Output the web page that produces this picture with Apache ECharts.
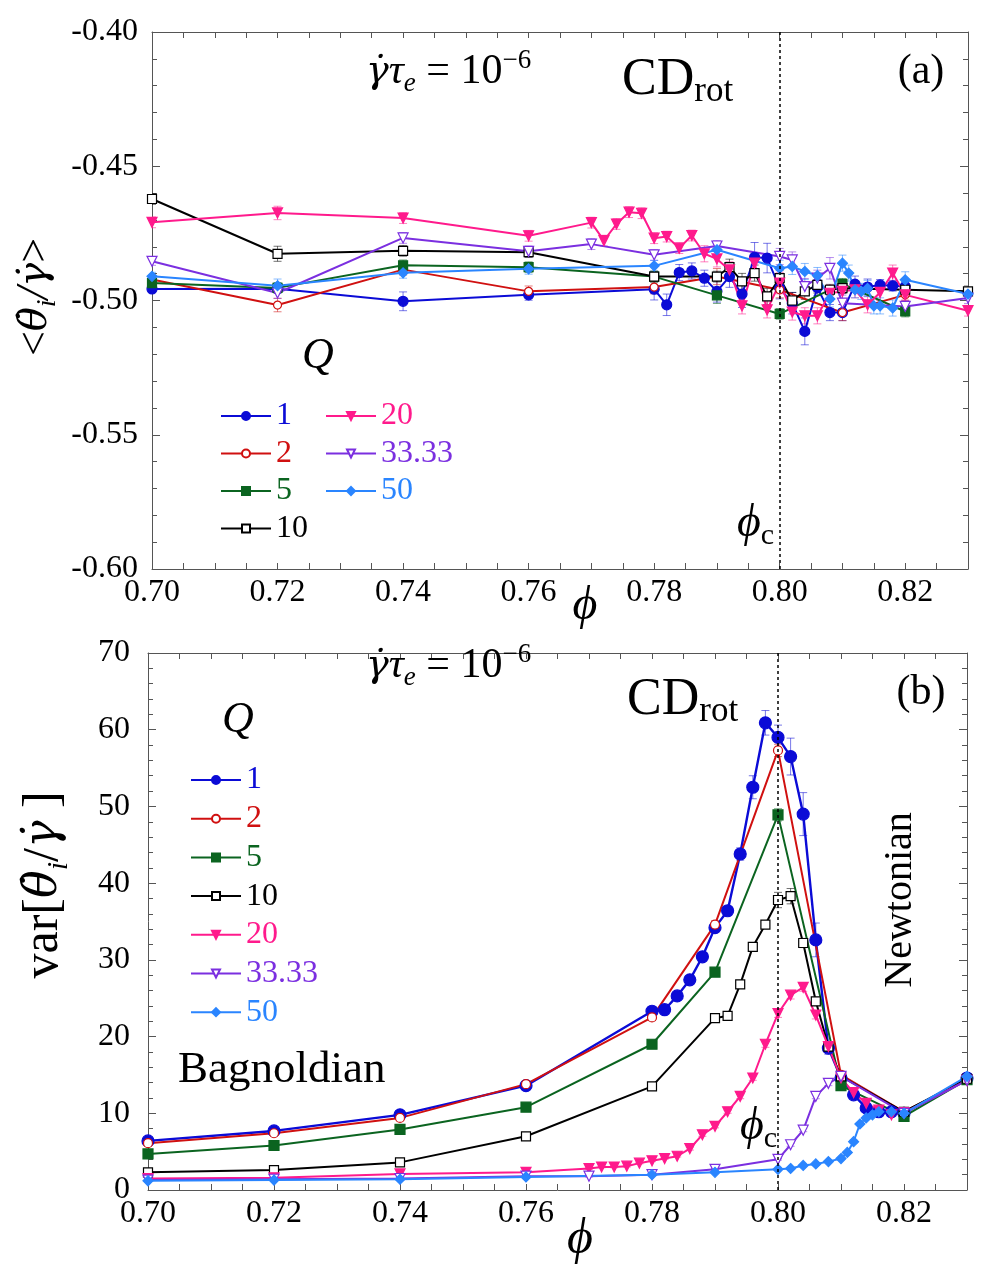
<!DOCTYPE html>
<html>
<head>
<meta charset="utf-8">
<script src="https://cdn.jsdelivr.net/npm/echarts@6/dist/echarts.min.js"></script>
<style>
  html, body { margin: 0; background: #fff; }
  #chart { width: 991px; height: 1279px; }
</style>
</head>
<body>
<div id="chart"></div>
<script>
// Q values (legend)
const qNames = ['1', '2', '5', '10', '20', '33.33', '50']

// panel (a): [phi, <theta_dot/gamma_dot>, error]
const q1A = [[0.70,-0.4957,0.0012],[0.72,-0.4956,0.0015],[0.74,-0.5003,0.0035],[0.76,-0.4979,0.002],[0.78,-0.4958,0.004],[0.782,-0.5016,0.004],[0.784,-0.4896,0.003],[0.786,-0.4890,0.003],[0.788,-0.4917,0.003],[0.79,-0.4966,0.004],[0.792,-0.4911,0.004],[0.794,-0.4976,0.005],[0.796,-0.4839,0.0055],[0.798,-0.4842,0.0055],[0.80,-0.4954,0.004],[0.802,-0.5010,0.004],[0.804,-0.5115,0.005],[0.806,-0.4952,0.003],[0.808,-0.5045,0.003],[0.81,-0.5045,0.003],[0.812,-0.4939,0.003],[0.814,-0.4950,0.003],[0.816,-0.4942,0.002],[0.818,-0.4945,0.002],[0.82,-0.4948,0.002]]
const q2A = [[0.70,-0.4922,0.0015],[0.72,-0.5017,0.0025],[0.74,-0.4885,0.002],[0.76,-0.4966,0.002],[0.78,-0.4950,0.0025],[0.79,-0.4911,0.003],[0.80,-0.4960,0.003],[0.81,-0.5045,0.003],[0.82,-0.4979,0.002]]
const q5A = [[0.70,-0.4935,0.0015],[0.72,-0.4953,0.002],[0.74,-0.4869,0.002],[0.76,-0.4876,0.002],[0.78,-0.4911,0.002],[0.79,-0.4981,0.003],[0.80,-0.5050,0.002],[0.81,-0.4938,0.002],[0.82,-0.5041,0.002]]
const q10A = [[0.70,-0.4622,0.002],[0.72,-0.4826,0.0028],[0.74,-0.4815,0.002],[0.76,-0.4820,0.002],[0.78,-0.4911,0.002],[0.79,-0.4911,0.002],[0.792,-0.4876,0.003],[0.794,-0.4929,0.003],[0.796,-0.4898,0.003],[0.798,-0.4985,0.003],[0.80,-0.4917,0.003],[0.802,-0.5000,0.003],[0.804,-0.4966,0.003],[0.806,-0.4942,0.003],[0.808,-0.4960,0.002],[0.81,-0.4954,0.002],[0.82,-0.4960,0.002],[0.83,-0.4966,0.002]]
const q20A = [[0.70,-0.4709,0.002],[0.72,-0.4674,0.0025],[0.74,-0.4693,0.002],[0.76,-0.4759,0.002],[0.77,-0.4710,0.002],[0.772,-0.4777,0.002],[0.774,-0.4715,0.002],[0.776,-0.4671,0.002],[0.778,-0.4675,0.002],[0.78,-0.4768,0.002],[0.782,-0.4762,0.002],[0.784,-0.4805,0.002],[0.786,-0.4758,0.002],[0.788,-0.4826,0.003],[0.79,-0.4845,0.003],[0.792,-0.4886,0.003],[0.794,-0.5020,0.003],[0.796,-0.4861,0.004],[0.798,-0.5035,0.003],[0.80,-0.4935,0.004],[0.802,-0.5043,0.003],[0.804,-0.5057,0.003],[0.806,-0.5057,0.003],[0.808,-0.4973,0.003],[0.81,-0.4966,0.003],[0.812,-0.4960,0.003],[0.814,-0.5016,0.003],[0.816,-0.4970,0.003],[0.818,-0.4898,0.003],[0.82,-0.4979,0.002],[0.83,-0.5038,0.002]]
const q33A = [[0.70,-0.4854,0.0015],[0.72,-0.4972,0.002],[0.74,-0.4767,0.002],[0.76,-0.4817,0.002],[0.77,-0.4790,0.002],[0.78,-0.4830,0.002],[0.79,-0.4797,0.002],[0.80,-0.4836,0.003],[0.802,-0.4849,0.003],[0.804,-0.4948,0.003],[0.806,-0.4917,0.003],[0.808,-0.4880,0.004],[0.81,-0.5010,0.003],[0.82,-0.5022,0.002],[0.83,-0.4991,0.002]]
const q50A = [[0.70,-0.4910,0.0015],[0.72,-0.4945,0.0025],[0.74,-0.4897,0.002],[0.76,-0.4882,0.002],[0.78,-0.4871,0.002],[0.79,-0.4811,0.003],[0.80,-0.4880,0.003],[0.802,-0.4873,0.003],[0.804,-0.4892,0.003],[0.806,-0.4907,0.003],[0.808,-0.4994,0.003],[0.81,-0.4861,0.003],[0.811,-0.4898,0.003],[0.812,-0.4960,0.003],[0.813,-0.4966,0.003],[0.814,-0.4955,0.003],[0.815,-0.5020,0.003],[0.816,-0.5020,0.003],[0.818,-0.5028,0.003],[0.82,-0.4923,0.003],[0.83,-0.4976,0.002]]

// panel (b): [phi, var[theta_dot/gamma_dot], error]
const q1B = [[0.70,6.4,0.2],[0.72,7.7,0.2],[0.74,9.8,0.2],[0.76,13.6,0.3],[0.78,23.3,0.4],[0.782,23.5,0.4],[0.784,25.3,0.4],[0.786,27.4,0.4],[0.788,30.4,0.5],[0.79,34.2,0.5],[0.792,36.4,0.6],[0.794,43.8,0.8],[0.796,52.5,1.5],[0.798,60.9,1.6],[0.80,59.0,1.6],[0.802,56.5,2.4],[0.804,49.0,2.8],[0.806,32.6,2.2],[0.808,18.5,0.8],[0.81,14.6,0.4],[0.812,12.4,0.3],[0.814,10.7,0.3],[0.816,10.2,0.2],[0.818,10.2,0.2],[0.82,10.0,0.2],[0.83,14.6,0.3]]
const q2B = [[0.70,6.1,0.2],[0.72,7.4,0.2],[0.74,9.4,0.2],[0.76,13.8,0.3],[0.78,22.5,0.4],[0.79,34.6,0.5],[0.80,57.3,0.8],[0.81,15.0,0.5],[0.82,10.2,0.2],[0.83,14.4,0.3]]
const q5B = [[0.70,4.7,0.2],[0.72,5.8,0.2],[0.74,7.9,0.2],[0.76,10.8,0.2],[0.78,19.0,0.3],[0.79,28.4,0.4],[0.80,48.9,0.8],[0.81,13.6,0.3],[0.82,9.6,0.2],[0.83,14.4,0.3]]
const q10B = [[0.70,2.3,0.1],[0.72,2.6,0.1],[0.74,3.6,0.1],[0.76,7.0,0.2],[0.78,13.5,0.3],[0.79,22.4,0.3],[0.792,22.7,0.3],[0.794,26.8,0.4],[0.796,31.7,0.4],[0.798,34.6,0.5],[0.80,37.8,1.0],[0.802,38.3,1.0],[0.804,32.2,0.6],[0.806,24.6,0.5],[0.808,18.7,0.4],[0.81,14.8,0.3],[0.82,10.2,0.2],[0.83,14.5,0.3]]
const q20B = [[0.70,1.5,0.1],[0.72,1.6,0.1],[0.74,2.1,0.1],[0.76,2.3,0.1],[0.77,2.8,0.1],[0.772,3.0,0.1],[0.774,3.0,0.1],[0.776,3.1,0.1],[0.778,3.5,0.1],[0.78,3.8,0.1],[0.782,4.1,0.1],[0.784,4.4,0.1],[0.786,5.4,0.2],[0.788,7.2,0.2],[0.79,8.3,0.2],[0.792,10.2,0.2],[0.794,12.2,0.3],[0.796,14.6,0.3],[0.798,19.0,0.4],[0.80,23.0,0.5],[0.802,25.4,0.5],[0.804,26.4,0.5],[0.806,22.8,0.5],[0.808,18.7,0.4],[0.81,14.6,0.3],[0.812,12.7,0.3],[0.814,11.3,0.2],[0.816,10.4,0.2],[0.818,9.8,0.2],[0.82,10.1,0.2],[0.83,14.3,0.3]]
const q33B = [[0.70,1.3,0.1],[0.72,1.4,0.1],[0.74,1.5,0.1],[0.76,1.8,0.1],[0.77,1.8,0.1],[0.78,2.0,0.1],[0.79,2.7,0.1],[0.80,4.0,0.1],[0.802,5.9,0.2],[0.804,7.8,0.2],[0.806,12.2,0.3],[0.808,13.9,0.3],[0.81,14.8,0.3],[0.82,10.0,0.2],[0.83,14.3,0.3]]
const q50B = [[0.70,1.2,0.1],[0.72,1.3,0.1],[0.74,1.4,0.1],[0.76,1.7,0.1],[0.78,2.0,0.1],[0.79,2.3,0.1],[0.80,2.7,0.1],[0.802,2.8,0.1],[0.804,3.2,0.1],[0.806,3.4,0.1],[0.808,3.7,0.1],[0.81,4.1,0.1],[0.811,4.9,0.1],[0.812,6.3,0.2],[0.813,8.6,0.2],[0.814,9.4,0.2],[0.815,9.8,0.2],[0.816,10.2,0.2],[0.818,10.2,0.2],[0.82,10.0,0.2],[0.83,14.8,0.3]]

const phiC = 0.80

const dataA = { '1': q1A, '2': q2A, '5': q5A, '10': q10A, '20': q20A, '33.33': q33A, '50': q50A }
const dataB = { '1': q1B, '2': q2B, '5': q5B, '10': q10B, '20': q20B, '33.33': q33B, '50': q50B }

const qStyle = {
  '1':     { color: '#0b0bd6', symbol: 'circle',  filled: true,  sizeA: 10, sizeB: 12 },
  '2':     { color: '#d01010', symbol: 'circle',  filled: false, sizeA: 8,  sizeB: 9 },
  '5':     { color: '#0b6420', symbol: 'rect',    filled: true,  sizeA: 9,  sizeB: 10 },
  '10':    { color: '#000000', symbol: 'rect',    filled: false, sizeA: 9,  sizeB: 9 },
  '20':    { color: '#ff1a8c', symbol: 'triangle', rotate: 180, filled: true, sizeA: 10, sizeB: 10 },
  '33.33': { color: '#7b2fe0', symbol: 'triangle', rotate: 180, filled: false, sizeA: 10, sizeB: 10 },
  '50':    { color: '#2a85ff', symbol: 'diamond', filled: true,  sizeA: 10, sizeB: 10 }
}

const serif = '"Liberation Serif", "Times New Roman", serif'
const dvs = '"DejaVu Serif", serif'

function isMult(v, step) {
  return Math.abs(Math.round(v / step) * step - v) < 1e-7
}

function lineSeries(name, data, g) {
  const s = qStyle[name]
  return {
    name,
    type: 'line',
    xAxisIndex: g * 2,
    yAxisIndex: g * 2,
    data: data.map(d => [d[0], d[1]]),
    symbol: s.symbol,
    symbolRotate: s.rotate || 0,
    symbolSize: g ? s.sizeB : s.sizeA,
    lineStyle: { color: s.color, width: (g && name === '1') ? 2.4 : 2 },
    itemStyle: { color: s.filled ? s.color : '#fff', borderColor: s.color, borderWidth: 1.2 },
    emphasis: { disabled: true },
    clip: true,
    z: 3
  }
}

function errSeries(name, data, g) {
  const c = qStyle[name].color
  return {
    type: 'custom',
    xAxisIndex: g * 2,
    yAxisIndex: g * 2,
    data,
    encode: { x: 0, y: 1 },
    silent: true,
    clip: true,
    z: 2,
    renderItem(params, api) {
      const x = api.value(0)
      const y = api.value(1)
      const e = api.value(2)
      const hi = api.coord([x, y + e])
      const lo = api.coord([x, y - e])
      const w = 4
      const st = { stroke: c, lineWidth: 1, opacity: 0.55 }
      return {
        type: 'group',
        children: [
          { type: 'line', shape: { x1: hi[0], y1: hi[1], x2: lo[0], y2: lo[1] }, style: st },
          { type: 'line', shape: { x1: hi[0] - w, y1: hi[1], x2: hi[0] + w, y2: hi[1] }, style: st },
          { type: 'line', shape: { x1: lo[0] - w, y1: lo[1], x2: lo[0] + w, y2: lo[1] }, style: st }
        ]
      }
    }
  }
}

function xAxis(g, top) {
  return {
    type: 'value',
    gridIndex: g,
    position: top ? 'top' : 'bottom',
    min: 0.70,
    max: 0.83,
    interval: 0.005,
    axisLine: { onZero: false, lineStyle: { color: '#555', width: 1 } },
    axisTick: { inside: true, length: 6, lineStyle: { color: '#555' } },
    splitLine: { show: false },
    axisLabel: {
      show: !top,
      margin: 8,
      color: '#000',
      fontFamily: serif,
      fontSize: 32,
      formatter: v => isMult(v, 0.02) ? v.toFixed(2) : ''
    }
  }
}

function yAxis(g, right) {
  const a = g === 0
    ? { min: -0.60, max: -0.40, interval: 0.05, fmt: v => v.toFixed(2), margin: 14 }
    : { min: 0, max: 70, interval: 10, fmt: v => String(Math.round(v)), margin: 18 }
  return {
    type: 'value',
    gridIndex: g,
    position: right ? 'right' : 'left',
    min: a.min,
    max: a.max,
    interval: a.interval,
    axisLine: { show: true, onZero: false, lineStyle: { color: '#555', width: 1 } },
    axisTick: { show: true, inside: true, length: 8, lineStyle: { color: '#555' } },
    minorTick: { show: true, splitNumber: 5, length: 5, lineStyle: { color: '#555' } },
    splitLine: { show: false },
    axisLabel: {
      show: !right,
      margin: a.margin,
      color: '#000',
      fontFamily: serif,
      fontSize: 32,
      formatter: a.fmt
    }
  }
}

function legendOf(names, left, top, gap) {
  return {
    orient: 'vertical',
    left,
    top,
    itemWidth: 50,
    itemHeight: 10,
    itemGap: gap,
    selectedMode: false,
    textStyle: { fontFamily: serif, fontSize: 32, lineHeight: 32 },
    data: names.map(n => ({ name: n, textStyle: { color: qStyle[n].color } }))
  }
}

function dashLine() {
  return {
    silent: true,
    symbol: 'none',
    label: { show: false },
    lineStyle: { color: '#000', type: [3, 3], width: 1.5 },
    data: [{ xAxis: phiC }]
  }
}

// rich text styles for the annotations
const richBase = {
  it: { fontFamily: serif, fontStyle: 'italic', fontSize: 42, lineHeight: 50 },
  dv: { fontFamily: dvs, fontStyle: 'italic', fontSize: 38, lineHeight: 50 },
  rm: { fontFamily: serif, fontSize: 42, lineHeight: 50 },
  sub: { fontFamily: serif, fontStyle: 'italic', fontSize: 27, lineHeight: 50, verticalAlign: 'bottom' },
  sup: { fontFamily: serif, fontSize: 27, lineHeight: 50, verticalAlign: 'top' },
  big: { fontFamily: serif, fontSize: 52, lineHeight: 58 },
  bsub: { fontFamily: serif, fontSize: 35, lineHeight: 58, verticalAlign: 'bottom' },
  lab: { fontFamily: serif, fontSize: 44, lineHeight: 52 },
  labd: { fontFamily: dvs, fontStyle: 'italic', fontSize: 40, lineHeight: 52 },
  labi: { fontFamily: serif, fontStyle: 'italic', fontSize: 46, lineHeight: 52 },
  labs: { fontFamily: serif, fontStyle: 'italic', fontSize: 28, lineHeight: 52, verticalAlign: 'bottom' },
  labc: { fontFamily: serif, fontSize: 30, lineHeight: 54, verticalAlign: 'bottom' },
  vb: { fontFamily: serif, fontSize: 50, lineHeight: 60 },
  vbd: { fontFamily: dvs, fontStyle: 'italic', fontSize: 46, lineHeight: 60 },
  vbs: { fontFamily: serif, fontStyle: 'italic', fontSize: 30, lineHeight: 60, verticalAlign: 'bottom' }
}

function txt(text, x, y, opts) {
  const o = opts || {}
  return {
    type: 'text',
    x,
    y,
    rotation: o.rotation || 0,
    z: 10,
    style: {
      text,
      rich: richBase,
      fill: '#000',
      font: o.font || ('42px ' + serif),
      textAlign: o.align || 'left',
      textVerticalAlign: 'middle',
      align: o.align || 'left',
      verticalAlign: 'middle'
    }
  }
}

const series = []
qNames.forEach(n => {
  series.push(errSeries(n, dataA[n], 0))
  series.push(lineSeries(n, dataA[n], 0))
})
qNames.forEach(n => {
  series.push(errSeries(n, dataB[n], 1))
  series.push(lineSeries(n, dataB[n], 1))
})
// dashed phi_c line on both panels
series[1].markLine = dashLine()
series[15].markLine = dashLine()

const option = {
  animation: false,
  backgroundColor: '#fff',
  grid: [
    { left: 152, top: 32, right: 23, height: 537 },
    { left: 148, top: 653, right: 24, height: 537 }
  ],
  xAxis: [xAxis(0, false), xAxis(0, true), xAxis(1, false), xAxis(1, true)],
  yAxis: [yAxis(0, false), yAxis(0, true), yAxis(1, false), yAxis(1, true)],
  legend: [
    legendOf(['1', '2', '5', '10'], 215, 395, 5.5),
    legendOf(['20', '33.33', '50'], 320, 395, 5.5),
    legendOf(qNames, 185, 759, 6.7)
  ],
  series,
  graphic: [
    // panel (a)
    txt('{dv|γ̇}{it|τ}{sub|e}{rm| = 10}{sup|−6}', 366, 72),
    txt('{big|CD}{bsub|rot}', 622, 80),
    txt('(a)', 921, 72, { align: 'center', font: '42px ' + serif }),
    txt('Q', 318, 356, { align: 'center', font: 'italic 44px ' + serif }),
    txt('{labi|ϕ}{labc|c}', 737, 524),
    txt('ϕ', 585, 606, { align: 'center', font: 'italic 48px ' + serif }),
    txt('{lab|<}{labd|θ̇}{labs|i}{labi|/}{labd|γ̇}{lab|>}', 36, 297, { align: 'center', rotation: Math.PI / 2 }),
    // panel (b)
    txt('{dv|γ̇}{it|τ}{sub|e}{rm| = 10}{sup|−6}', 366, 666),
    txt('{big|CD}{bsub|rot}', 627, 700),
    txt('(b)', 921, 693, { align: 'center', font: '42px ' + serif }),
    txt('Q', 238, 720, { align: 'center', font: 'italic 44px ' + serif }),
    txt('Bagnoldian', 178, 1070, { font: '45px ' + serif }),
    txt('Newtonian', 900, 900, { align: 'center', rotation: Math.PI / 2, font: '40px ' + serif }),
    txt('{labi|ϕ}{labc|c}', 740, 1127),
    txt('ϕ', 580, 1240, { align: 'center', font: 'italic 50px ' + serif }),
    txt('{vb|var[}{vbd|θ̇}{vbs|i}{vb|/}{vbd|γ̇}{vb| ]}', 44, 885, { align: 'center', rotation: Math.PI / 2 })
  ]
}

const chart = echarts.init(document.getElementById('chart'))
chart.setOption(option)
</script>
</body>
</html>
